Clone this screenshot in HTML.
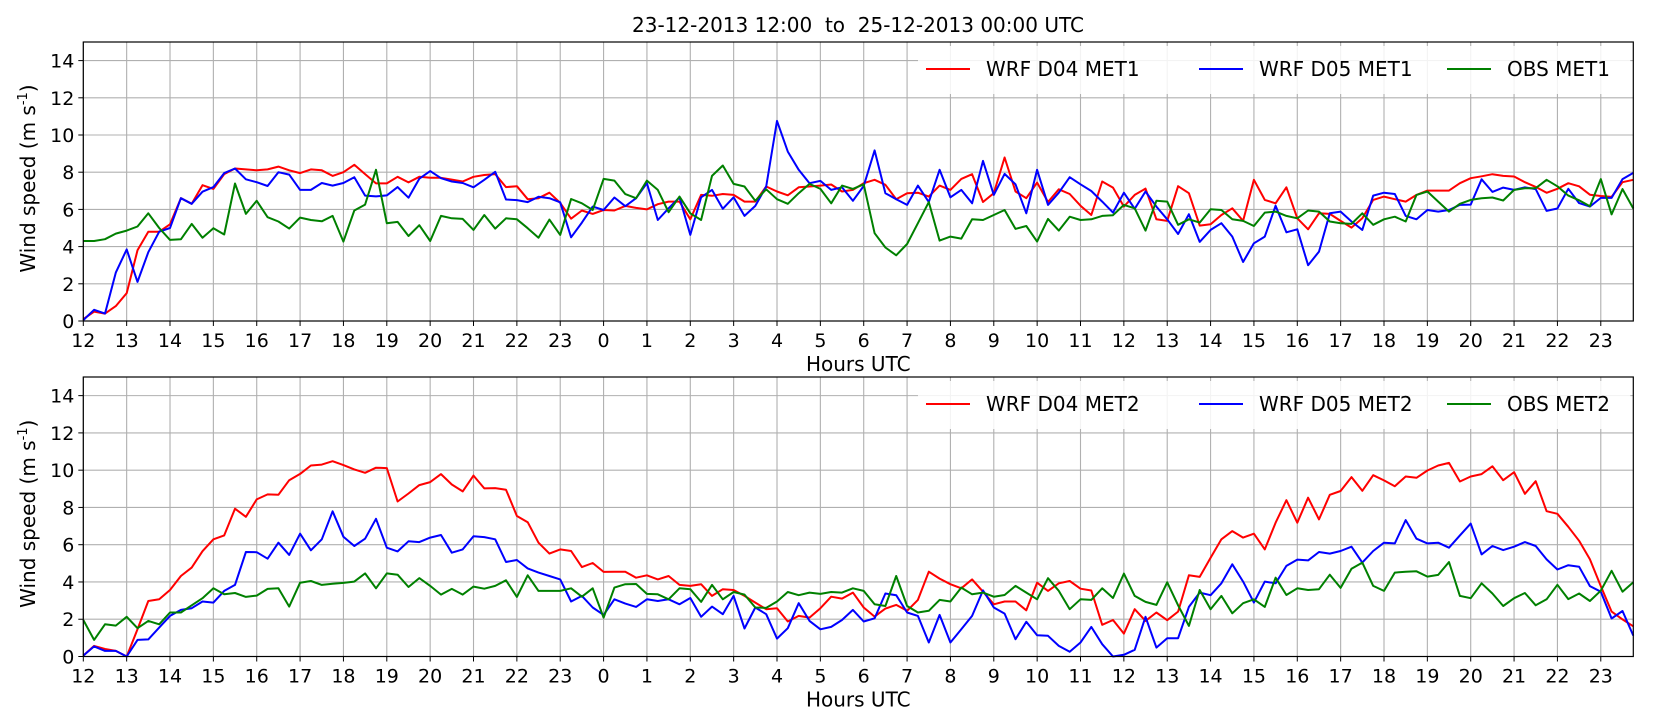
<!DOCTYPE html>
<html><head><meta charset="utf-8"><style>
html,body{margin:0;padding:0;background:#fff;}
svg{display:block;font-family:"DejaVu Sans","Liberation Sans",sans-serif;}
</style></head><body>
<svg id="chart" width="1653" height="726" viewBox="0 0 1653 726">
<text x="858" y="32" font-size="20" text-anchor="middle" style="white-space:pre" xml:space="preserve">23-12-2013 12:00  to  25-12-2013 00:00 UTC</text>
<g id="p1"></g>
<g id="p2"></g>
</svg>
<script>
const hourLabels=[12,13,14,15,16,17,18,19,20,21,22,23,0,1,2,3,4,5,6,7,8,9,10,11,12,13,14,15,16,17,18,19,20,21,22,23];
const yTicks=[0,2,4,6,8,10,12,14];
const d04Met1=[0.1,0.5,0.4,0.8, 1.5,3.8,4.8,4.8, 5.2,6.6,6.3,7.3, 7.1,7.9,8.2,8.15, 8.1,8.15,8.3,8.1, 7.95,8.15,8.1,7.8, 8.0,8.4,7.9,7.4, 7.4,7.75,7.45,7.75, 7.7,7.7,7.6,7.5, 7.75,7.85,7.9,7.2, 7.25,6.55,6.6,6.9, 6.35,5.5,5.94,5.76, 5.97,5.94,6.19,6.08, 6.0,6.28,6.42,6.42, 5.47,6.78,6.73,6.83, 6.78,6.42,6.42,7.23, 6.96,6.76,7.19,7.23, 7.28,7.34,6.96,7.05, 7.41,7.59,7.32,6.55, 6.87,6.9,6.69,7.28, 7.05,7.64,7.89,6.4, 6.87,8.79,6.96,6.6, 7.44,6.4,7.08,6.83, 6.2,5.7,7.5,7.17, 6.15,6.78,7.12,5.47, 5.38,7.25,6.87,5.13, 5.2,5.7,6.06,5.38, 7.59,6.51,6.33,7.19, 5.52,4.93,5.79,5.76, 5.38,5.02,5.52,6.51, 6.69,6.55,6.42,6.78, 7.01,7.01,7.01,7.41, 7.68,7.78,7.89,7.8, 7.77,7.46,7.21,6.89, 7.11,7.41,7.24,6.79, 6.72,6.67,7.46,7.59];
const d05Met1=[0.05,0.6,0.4,2.6, 3.85,2.1,3.7,4.8, 5.0,6.6,6.3,6.95, 7.2,7.95,8.2,7.62, 7.46,7.26,8.0,7.87, 7.05,7.05,7.42,7.28, 7.42,7.73,6.74,6.7, 6.75,7.2,6.63,7.65, 8.06,7.68,7.5,7.42, 7.19,7.59,8.02,6.53, 6.5,6.39,6.68,6.6, 6.38,4.5,5.29,6.15, 5.97,6.64,6.17,6.6, 7.41,5.43,6.06,6.65, 4.63,6.65,7.05,6.03, 6.65,5.65,6.19,7.23, 10.76,9.11,8.13,7.41, 7.53,7.05,7.19,6.46, 7.26,9.17,6.87,6.55, 6.24,7.28,6.39,8.13, 6.65,7.05,6.33,8.61, 6.78,7.91,7.35,5.79, 8.13,6.24,6.9,7.73, 7.35,6.99,6.42,5.83, 6.9,6.03,6.96,6.15, 5.47,4.68,5.74,4.25, 4.9,5.26,4.54,3.17, 4.18,4.54,6.2,4.77, 4.93,3.0,3.73,5.79, 5.88,5.35,4.9,6.74, 6.9,6.83,5.65,5.47, 5.97,5.88,5.97,6.24, 6.26,7.62,6.94,7.17, 7.05,7.19,7.09,5.92, 6.05,7.11,6.34,6.15, 6.62,6.62,7.63,7.96];
const obsMet1=[4.3,4.3,4.4,4.7, 4.86,5.08,5.79,5.0, 4.36,4.39,5.22,4.48, 4.99,4.65,7.39,5.76, 6.46,5.58,5.35,4.97, 5.56,5.43,5.36,5.65, 4.27,5.94,6.26,8.13, 5.26,5.33,4.57,5.15, 4.3,5.65,5.52,5.49, 4.9,5.7,4.97,5.52, 5.47,4.99,4.48,5.45, 4.63,6.56,6.33,5.97, 7.64,7.55,6.82,6.6, 7.55,7.05,5.85,6.69, 5.79,5.43,7.8,8.36, 7.37,7.23,6.46,7.08, 6.55,6.3,6.87,7.37, 7.1,6.33,7.28,7.1, 7.35,4.72,3.95,3.53, 4.14,5.26,6.39,4.32, 4.54,4.43,5.47,5.43, 5.7,5.97,4.95,5.11, 4.27,5.49,4.86,5.61, 5.43,5.47,5.65,5.69, 6.24,6.06,4.86,6.46, 6.42,5.17,5.47,5.29, 6.01,5.97,5.47,5.38, 5.11,5.83,5.88,5.65, 5.52,5.94,5.88,5.35, 5.26,5.22,5.79,5.17, 5.47,5.61,5.35,6.78, 6.96,6.42,5.88,6.3, 6.51,6.6,6.64,6.48, 7.05,7.14,7.14,7.59, 7.24,6.74,6.49,6.17, 7.63,5.73,7.09,6.05];
const d04Met2=[0.05,0.57,0.4,0.3, 0.0,1.46,2.98,3.07, 3.57,4.32,4.77,5.65, 6.29,6.5,7.93,7.5, 8.43,8.7,8.68,9.46, 9.8,10.25,10.3,10.48, 10.27,10.04,9.86,10.13, 10.11,8.32,8.75,9.2, 9.36,9.79,9.23,8.86, 9.71,9.02,9.04,8.95, 7.54,7.21,6.11,5.52, 5.75,5.66,4.8,5.02, 4.54,4.55,4.55,4.23, 4.36,4.14,4.32,3.84, 3.79,3.88,3.25,3.61, 3.57,3.25,2.89,2.54, 2.59,1.88,2.18,2.09, 2.59,3.21,3.11,3.43, 2.63,2.14,2.57,2.77, 2.45,3.04,4.55,4.18, 3.88,3.66,4.14,3.48, 2.8,2.95,2.95,2.48, 3.96,3.52,3.93,4.05, 3.64,3.54,1.7,1.96, 1.23,2.54,1.91,2.36, 1.95,2.41,4.36,4.27, 5.3,6.29,6.73,6.38, 6.59,5.75,7.18,8.39, 7.18,8.52,7.36,8.68, 8.88,9.63,8.89,9.73, 9.45,9.14,9.66,9.59, 9.98,10.25,10.39,9.39, 9.66,9.79,10.21,9.46, 9.89,8.73,9.41,7.8, 7.66,6.96,6.21,5.22, 3.78,2.41,1.99,1.62];
const d05Met2=[0.05,0.54,0.3,0.3, 0.0,0.89,0.92,1.55, 2.18,2.5,2.59,2.95, 2.89,3.52,3.84,5.61, 5.6,5.25,6.11,5.45, 6.59,5.7,6.29,7.79, 6.43,5.93,6.32,7.39, 5.84,5.64,6.18,6.14, 6.38,6.52,5.57,5.75, 6.45,6.41,6.29,5.07, 5.18,4.73,4.5,4.32, 4.14,2.95,3.25,2.63, 2.23,3.07,2.84,2.66, 3.07,2.98,3.07,2.8, 3.14,2.13,2.68,2.27, 3.25,1.5,2.63,2.27, 0.96,1.52,2.86,1.91, 1.46,1.59,1.96,2.5, 1.88,2.05,3.38,3.29, 2.36,2.18,0.75,2.23, 0.75,1.46,2.18,3.55, 2.63,2.3,0.93,1.86, 1.14,1.11,0.57,0.25, 0.75,1.59,0.66,0.0, 0.09,0.36,2.13,0.48, 0.98,0.98,2.66,3.43, 3.29,3.93,4.95,4.02, 2.89,4.02,3.93,4.86, 5.2,5.16,5.61,5.52, 5.66,5.89,5.04,5.66, 6.11,6.07,7.32,6.32, 6.07,6.11,5.84,6.5, 7.13,5.48,5.93,5.71, 5.89,6.14,5.93,5.21, 4.67,4.9,4.82,3.78, 3.48,2.04,2.44,1.12];
const obsMet2=[1.96,0.89,1.73,1.66, 2.13,1.52,1.91,1.73, 2.36,2.36,2.75,3.13, 3.66,3.34,3.41,3.2, 3.27,3.63,3.66,2.68, 3.96,4.05,3.84,3.9, 3.95,4.02,4.46,3.66, 4.46,4.39,3.73,4.21, 3.79,3.32,3.63,3.32, 3.75,3.64,3.79,4.09, 3.2,4.36,3.52,3.52, 3.52,3.66,3.21,3.66, 2.09,3.7,3.88,3.89, 3.36,3.34,3.07,3.66, 3.61,2.93,3.84,3.07, 3.46,3.32,2.63,2.61, 2.95,3.46,3.29,3.43, 3.36,3.46,3.43,3.66, 3.52,2.8,2.71,4.32, 2.71,2.36,2.45,3.04, 2.95,3.7,3.34,3.43, 3.21,3.3,3.79,3.43, 3.07,4.2,3.52,2.54, 3.07,3.04,3.66,3.14, 4.45,3.25,2.93,2.77, 3.98,2.75,1.64,3.57, 2.54,3.25,2.32,2.86, 3.07,2.66,4.23,3.3, 3.66,3.57,3.61,4.39, 3.68,4.71,5.04,3.79, 3.52,4.5,4.55,4.57, 4.29,4.38,5.07,3.25, 3.13,3.93,3.38,2.71, 3.13,3.41,2.75,3.07, 3.85,3.08,3.38,2.98, 3.53,4.6,3.48,3.98];

const NS='http://www.w3.org/2000/svg';
const X0=83.3, X1=1633.3, HOURS=35.75, YMAX=15;
function xScale(h){return X0+(X1-X0)*h/HOURS;}
function mk(tag,attrs,parent){const e=document.createElementNS(NS,tag);for(const k in attrs)e.setAttribute(k,attrs[k]);parent.appendChild(e);return e;}

function drawPanel(g,top,bottom,series,names,met){
  const yScale=v=>bottom-(bottom-top)*v/YMAX;
  hourLabels.forEach((lab,i)=>{
    const x=xScale(i);
    const l=mk('line',{x1:x,x2:x,y1:top,y2:bottom,stroke:'#b0b0b0','stroke-width':1.1},g);
    
    
    const t=mk('line',{x1:x,x2:x,y1:bottom,y2:bottom+5,stroke:'#000','stroke-width':1},g);
    
    
    const tx=mk('text',{x:x,y:bottom+26,'font-size':19,'text-anchor':'middle'},g);
    tx.textContent=lab;
    
    
  });
  yTicks.forEach(v=>{
    const y=yScale(v);
    const l=mk('line',{x1:X0,x2:X1,y1:y,y2:y,stroke:'#b0b0b0','stroke-width':1.1},g);
    
    
    const t=mk('line',{x1:X0-5,x2:X0,y1:y,y2:y,stroke:'#000','stroke-width':1},g);
    
    
    const tx=mk('text',{x:X0-9,y:y+7,'font-size':19,'text-anchor':'end'},g);
    tx.textContent=v;
    
    
  });
  const colors=['#ff0000','#0000ff','#008000'];
  series.forEach((arr,si)=>{
    const d=arr.map((v,i)=>(i?'L':'M')+xScale(i/4).toFixed(1)+','+yScale(v).toFixed(1)).join('');
    const p=mk('path',{d:d,fill:'none',stroke:colors[si],'stroke-width':2,'stroke-linejoin':'round'},g);
    
    
  });
  const lb2=mk('rect',{x:918,y:top+4,width:X1-918-3,height:48,fill:'#fff',opacity:0.85},g);
  
  
  const legX=[[926,986],[1199,1259],[1447,1507]];
  const legTxt=['WRF D04 '+met,'WRF D05 '+met,'OBS '+met];
  const ly=top+27;
  legX.forEach((p,i)=>{
    const ln=mk('line',{x1:p[0],x2:p[0]+44,y1:ly,y2:ly,stroke:colors[i],'stroke-width':2},g);
    
    
    const t=mk('text',{x:p[1],y:ly+7,'font-size':20},g);
    t.textContent=legTxt[i];
    
    
  });
  const f=mk('rect',{x:X0,y:top,width:X1-X0,height:bottom-top,fill:'none',stroke:'#000','stroke-width':1.2},g);
  
  
  const xt=mk('text',{x:(X0+X1)/2,y:bottom+50,'font-size':20,'text-anchor':'middle'},g);
  xt.textContent='Hours UTC';
  
  
  const cy=(top+bottom)/2-3;
  const yt=mk('text',{x:0,y:0,'font-size':20,'text-anchor':'middle',transform:'translate(35,'+cy+') rotate(-90)'},g);
  yt.innerHTML='Wind speed (m s<tspan dy="-8" font-size="13">-1</tspan><tspan dy="8">)</tspan>';
  
  
}
drawPanel(document.getElementById('p1'),42,321,[d04Met1,d05Met1,obsMet1],['line-wrf-d04-met1','line-wrf-d05-met1','line-obs-met1'],'MET1');
drawPanel(document.getElementById('p2'),377,656.5,[d04Met2,d05Met2,obsMet2],['line-wrf-d04-met2','line-wrf-d05-met2','line-obs-met2'],'MET2');
</script>
</body></html>
